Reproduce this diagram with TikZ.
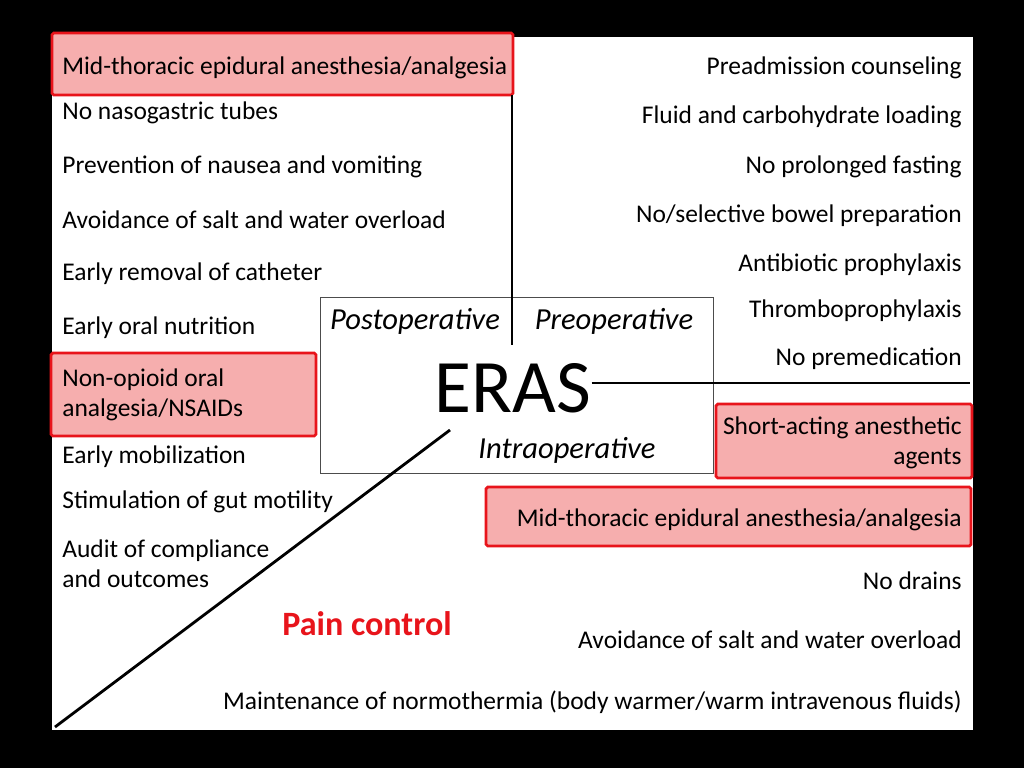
\documentclass[tikz,border=0pt]{standalone}
\usepackage{fontspec}
\setmainfont{Carlito}
\definecolor{hired}{HTML}{E8141B}
\definecolor{hifill}{HTML}{F6AEAE}
\tikzstyle{item}=[inner sep=0pt, font=\fontsize{14.5}{17}\selectfont, align=left]
\tikzstyle{ritem}=[item, anchor=east, align=right]
\tikzstyle{litem}=[item, anchor=west]
\tikzstyle{hibox}=[draw=hired, fill=hifill, line width=1.6pt, rounded corners=1pt]
\tikzstyle{phase}=[inner sep=0pt, font=\fontsize{17.4}{20}\itshape\selectfont]

\begin{document}
\begin{tikzpicture}[x=0.02cm, y=-0.02cm]

\fill[black] (0,0) rectangle (1024,768);
\fill[white] (52,37) rectangle (973,730);

% highlighted items
\draw[hibox] (52,33) rectangle (513,95);
\draw[hibox] (51,353) rectangle (316,436);
\draw[hibox] (716,404) rectangle (972,478);
\draw[hibox] (486,487) rectangle (971,546);

% centre
\node[draw=black!70, line width=0.5pt, minimum width=7.86cm, minimum height=3.52cm, inner sep=0pt] (frame) at (516.5,385) {};
\node[inner sep=0pt, font=\fontsize{43}{48}\selectfont] (eras) at (513,388) {ERAS};
\node[phase] (post) at (415,321) {Postoperative};
\node[phase] (pre) at (614,321) {Preoperative};
\node[phase] (intra) at (567,450) {Intraoperative};

\coordinate (vtop) at (512,95);
\coordinate (vbot) at (512,345);
\coordinate (hend) at (970,383);
\coordinate (dtop) at (450,430);
\coordinate (dbot) at (55,727);
\draw[line width=1.6pt] (vtop) -- (vbot);
\draw[line width=1.6pt] (eras.east |- hend) -- (hend);
\draw[line width=1.6pt] (dtop) -- (dbot);

% postoperative
\node[litem] (l1) at (62,68) {Mid-thoracic epidural anesthesia/analgesia};
\node[litem] (l2) at (62,113) {No nasogastric tubes};
\node[litem] (l3) at (62,167) {Prevention of nausea and vomiting};
\node[litem] (l4) at (62,220) {Avoidance of salt and water overload};
\node[litem] (l5) at (62,274) {Early removal of catheter};
\node[litem] (l6) at (62,328) {Early oral nutrition};
\node[litem] (l7) at (62,395) {Non-opioid oral\\analgesia/NSAIDs};
\node[litem] (l8) at (62,457) {Early mobilization};
\node[litem] (l9) at (62,502) {Stimulation of gut motility};
\node[litem] (l10) at (62,564) {Audit of compliance\\and outcomes};

% preoperative
\node[ritem] (r1) at (962,68) {Preadmission counseling};
\node[ritem] (r2) at (962,117) {Fluid and carbohydrate loading};
\node[ritem] (r3) at (962,167) {No prolonged fasting};
\node[ritem] (r4) at (962,216) {No/selective bowel preparation};
\node[ritem] (r5) at (962,265) {Antibiotic prophylaxis};
\node[ritem] (r6) at (962,311) {Thromboprophylaxis};
\node[ritem] (r7) at (962,359) {No premedication};

% intraoperative
\node[ritem] (i1) at (962,443) {Short-acting anesthetic\\agents};
\node[ritem] (i2) at (962,520) {Mid-thoracic epidural anesthesia/analgesia};
\node[ritem] (i3) at (962,581) {No drains};
\node[ritem] (i4) at (962,640) {Avoidance of salt and water overload};
\node[ritem] (i5) at (962,702) {Maintenance of normothermia (body warmer/warm intravenous fluids)};

\node[inner sep=0pt, text=hired, font=\fontsize{19.4}{22}\bfseries\selectfont] (pain) at (367,624) {Pain control};

\end{tikzpicture}
\end{document}
